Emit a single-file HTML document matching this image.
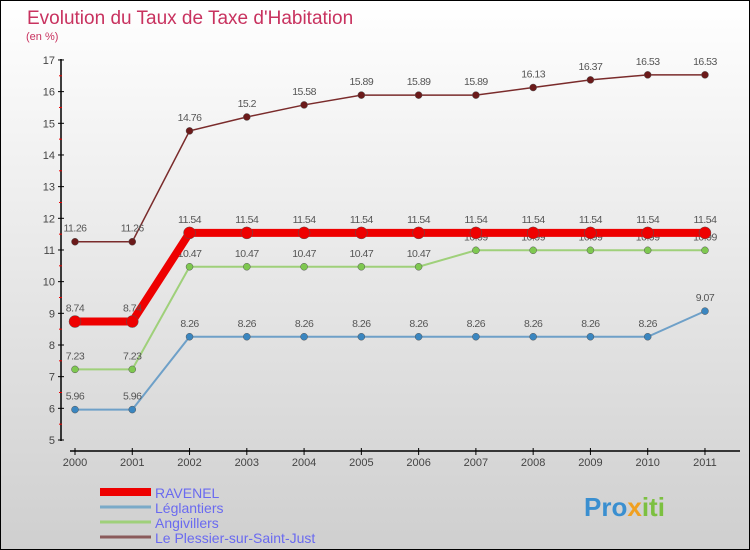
<!DOCTYPE html>
<html><head><meta charset="utf-8"><style>
body{margin:0;}
#c{width:750px;height:550px;position:relative;box-sizing:border-box;border:1px solid #000;background:linear-gradient(#ffffff,#cfcfcf);font-family:"Liberation Sans",sans-serif;overflow:hidden}
</style></head><body>
<div id="c">
<svg id="s" width="750" height="550" style="position:absolute;left:-1px;top:-1px"></svg>
</div>
<script>
const years=["2000","2001","2002","2003","2004","2005","2006","2007","2008","2009","2010","2011"];
const ravenel=[8.74,8.74,11.54,11.54,11.54,11.54,11.54,11.54,11.54,11.54,11.54,11.54];
const leglantiers=[5.96,5.96,8.26,8.26,8.26,8.26,8.26,8.26,8.26,8.26,8.26,9.07];
const angivillers=[7.23,7.23,10.47,10.47,10.47,10.47,10.47,10.99,10.99,10.99,10.99,10.99];
const plessier=[11.26,11.26,14.76,15.2,15.58,15.89,15.89,15.89,16.13,16.37,16.53,16.53];
const yTicks=[5,6,7,8,9,10,11,12,13,14,15,16,17];
const seriesNames=["RAVENEL","Léglantiers","Angivillers","Le Plessier-sur-Saint-Just"];
const NS="http://www.w3.org/2000/svg";
const s=document.getElementById('s');
const X=i=>75+i*57.27;
const Y=v=>440-(v-5)*31.67;
function el(t,a,txt){const e=document.createElementNS(NS,t);for(const k in a)e.setAttribute(k,a[k]);if(txt!=null)e.textContent=txt;s.appendChild(e);return e;}
let e;
e=el('text',{x:27,y:24,fill:'#c8325f','font-size':19},'Evolution du Taux de Taxe d\'Habitation');

e=el('text',{x:26,y:40,fill:'#c8325f','font-size':11},'(en %)');

e=el('line',{x1:61,y1:59,x2:61,y2:441,stroke:'#000','stroke-width':1.5});

yTicks.forEach(v=>{
 el('line',{x1:58,y1:Y(v),x2:64,y2:Y(v),stroke:'#000'});
 if(v<17) el('line',{x1:59,y1:Y(v+0.5),x2:62,y2:Y(v+0.5),stroke:'#e00'});
 e=el('text',{x:55,y:Y(v)+4,'text-anchor':'end','font-size':11,fill:'#444'},v);
 
});
e=el('line',{x1:70,y1:451,x2:740,y2:451,stroke:'#000','stroke-width':1.5});

years.forEach((y,i)=>{
 el('line',{x1:X(i),y1:448,x2:X(i),y2:455,stroke:'#000'});
 e=el('text',{x:X(i),y:466,'text-anchor':'middle','font-size':11,fill:'#444'},y);
 
});
function series(data,color,w,r,name,fill){
 const p=el('polyline',{points:data.map((v,i)=>X(i)+','+Y(v)).join(' '),fill:'none',stroke:color,'stroke-width':w});
 
 data.forEach((v,i)=>{
  const c=el('circle',{cx:X(i),cy:Y(v),r:r,fill:fill,stroke:'#555','stroke-width':0.5});
  
  const t=el('text',{x:X(i),y:Y(v)-10,'text-anchor':'middle','font-size':10.5,fill:'#555','letter-spacing':'-0.5'},v);
  
 });
}
series(plessier,'#7a2b2b',1.5,3.5,'plessier','#6b1a1a');
series(angivillers,'#9fd07a',2,3.5,'angivillers','#7ec850');
series(leglantiers,'#6ea0c8',2,3.5,'leglantiers','#3a86c0');
series(ravenel,'#ee0000',8,6,'ravenel','#ee0000');
const lc=['#ee0000','#7aaac8','#9fd07a','#8a5a5a'],lw=[8,3,3,3];
seriesNames.forEach((n,i)=>{
 const y=492+i*15;
 e=el('line',{x1:100,y1:y,x2:151,y2:y,stroke:lc[i],'stroke-width':lw[i]});
 
 e=el('text',{x:155,y:y+6,'font-size':14,fill:'#6a6af0'},n);
 
});
e=el('text',{x:584,y:516,'font-size':26,'font-weight':'bold'});

e.innerHTML='<tspan fill="#3a8fd0">Pro</tspan><tspan fill="#f0a020">x</tspan><tspan fill="#7cc040">iti</tspan>';
</script>
</body></html>
